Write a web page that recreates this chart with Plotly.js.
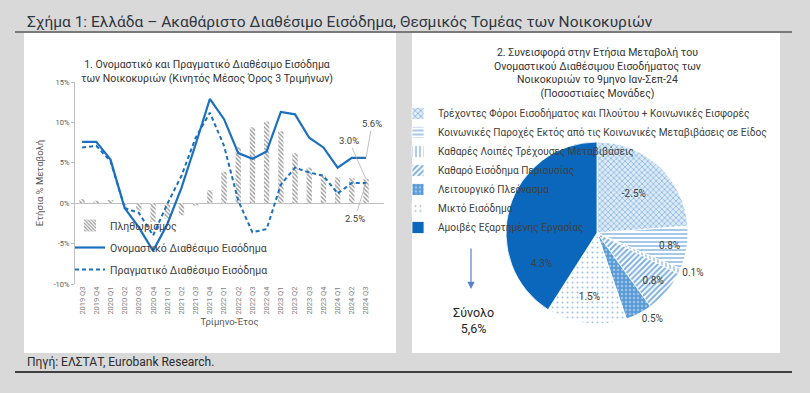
<!DOCTYPE html>
<html>
<head>
<meta charset="utf-8">
<script src="https://cdn.plot.ly/plotly-3.0.1.min.js"></script>
<style>html,body{margin:0;padding:0;background:#d9d9d9;}#chart{width:810px;height:393px;}</style>
</head>
<body>
<div id="chart"></div>
<script>
// ---- Data (left chart) ----
const quarters = ['2019 Q3','2019 Q4','2020 Q1','2020 Q2','2020 Q3','2020 Q4','2021 Q1','2021 Q2','2021 Q3','2021 Q4','2022 Q1','2022 Q2','2022 Q3','2022 Q4','2023 Q1','2023 Q2','2023 Q3','2023 Q4','2024 Q1','2024 Q2','2024 Q3'];
const inflation = [0.5, 0.3, 0.4, -0.2, -0.9, -2.3, -1.9, -1.5, -0.3, 1.6, 3.9, 6.9, 9.4, 10.1, 8.9, 6.2, 4.4, 3.4, 3.2, 3.1, 3.0];
const nominalIncome = [7.6, 7.6, 5.4, -0.6, -3.0, -5.9, -2.6, 1.9, 7.3, 12.9, 10.4, 6.2, 5.5, 6.4, 11.3, 11.0, 8.1, 6.9, 4.4, 5.6, 5.6];
const realIncome = [6.9, 7.1, 5.2, -0.6, -1.2, -4.0, -0.1, 3.4, 8.1, 11.2, 7.1, 0.3, -3.6, -3.2, 2.3, 4.4, 3.8, 3.4, 1.2, 2.5, 2.5];
const seriesNames = ['Πληθωρισμός', 'Ονομαστικό Διαθέσιμο Εισόδημα', 'Πραγματικό Διαθέσιμο Εισόδημα'];
const yTicks = [-10, -5, 0, 5, 10, 15];

// ---- Data (right chart) ----
const components = ['Τρέχοντες Φόροι Εισοδήματος και Πλούτου + Κοινωνικές Εισφορές',
  'Κοινωνικές Παροχές Εκτός από τις Κοινωνικές Μεταβιβάσεις σε Είδος',
  'Καθαρές Λοιπές Τρέχουσες Μεταβιβάσεις',
  'Καθαρό Εισόδημα Περιουσίας',
  'Λειτουργικό Πλεόνασμα',
  'Μικτό Εισόδημα',
  'Αμοιβές Εξαρτημένης Εργασίας'];
const contributions = [-2.5, 0.8, 0.1, 0.8, 0.5, 1.5, 4.3];
const totalChange = '5,6%';

// ---- helpers ----
const W = 810, H = 393;
const px = v => v / W;
const py = v => 1 - v / H;
const FONT = 'Roboto, "Open Sans", sans-serif';
const BLUE = '#1b70c0';
const fmt = v => v.toFixed(1) + '%';
const lastIdx = contributions.length - 1;

const traces = [
  {
    type: 'bar', x: quarters, y: inflation, name: seriesNames[0], width: 0.38,
    marker: {color: '#ffffff', line: {width: 0},
      pattern: {shape: '\\', fgcolor: '#999999', bgcolor: '#ffffff', size: 3, solidity: 0.45}},
    legendgroup: 'a', hoverinfo: 'x+y'
  },
  {
    type: 'scatter', mode: 'lines', x: quarters, y: nominalIncome, name: seriesNames[1],
    line: {color: BLUE, width: 2.2}, legendgroup: 'b'
  },
  {
    type: 'scatter', mode: 'lines', x: quarters, y: realIncome, name: seriesNames[2],
    line: {color: BLUE, width: 2, dash: '4px,3px'}, legendgroup: 'c'
  },
  {
    type: 'pie', labels: components, values: contributions.map(Math.abs),
    text: contributions.map((v, i) => i === lastIdx ? '' : fmt(v)),
    textinfo: 'text', sort: false, direction: 'clockwise', rotation: 0,
    textposition: ['inside','inside','outside','inside','outside','inside','none'],
    insidetextorientation: 'horizontal',
    textfont: {family: FONT, size: 10, color: '#404040'},
    domain: {x: [px(506), px(688)], y: [py(324), py(142)]},
    legend: 'legend2',
    marker: {
      colors: ['#ffffff','#ffffff','#ffffff','#ffffff','#5b9bd5','#ffffff','#0b67bb'],
      line: {color: '#ffffff', width: 0.8},
      pattern: {
        shape: ['x','-','|','/','.','.',''],
        fgcolor: ['#8fbbe4','#9dc3e6','#9dc3e6','#7fb0de','#9cc4ea','#9dc3e6','#0b67bb'],
        bgcolor: ['#deebf7','#ffffff','#ffffff','#ffffff','#5b9bd5','#ffffff','#0b67bb'],
        size: [4,4,4,4,4,5,4],
        solidity: [0.4,0.45,0.4,0.5,0.3,0.12,0.5]
      }
    },
    hoverinfo: 'label+text'
  }
];

const annotations = [
  {xref:'paper', yref:'paper', x: px(25), y: py(22), xanchor:'left', yanchor:'middle', showarrow:false,
   text:'Σχήμα 1: Ελλάδα – Ακαθάριστο Διαθέσιμο Εισόδημα, Θεσμικός Τομέας των Νοικοκυριών',
   font:{family: FONT, size: 15.5, color:'#2f3640'}},
  {xref:'paper', yref:'paper', x: px(207), y: py(72), xanchor:'center', yanchor:'middle', showarrow:false,
   text:'1. Ονομαστικό και Πραγματικό Διαθέσιμο Εισόδημα<br>των Νοικοκυριών (Κινητός Μέσος Όρος 3 Τριμήνων)',
   font:{family: FONT, size: 10.5, color:'#333333'}},
  {xref:'paper', yref:'paper', x: px(597), y: py(73), xanchor:'center', yanchor:'middle', showarrow:false,
   text:'2. Συνεισφορά στην Ετήσια Μεταβολή του<br>Ονομαστικού Διαθέσιμου Εισοδήματος των<br>Νοικοκυριών το 9μηνο Ιαν-Σεπ-24<br>(Ποσοστιαίες Μονάδες)',
   font:{family: FONT, size: 10.5, color:'#333333'}},
  {xref:'paper', yref:'paper', x: px(25), y: py(362), xanchor:'left', yanchor:'middle', showarrow:false,
   text:'Πηγή: ΕΛΣΤΑΤ, Eurobank Research.',
   font:{family: FONT, size: 12, color:'#2b2b2b'}},
  // compensation slice label (placed as in the reference, below the legend)
  {xref:'paper', yref:'paper', x: px(541), y: py(263), xanchor:'center', yanchor:'middle', showarrow:false,
   text: fmt(contributions[lastIdx]), font:{family: FONT, size: 10, color:'#404040'}},
  // end-of-series labels
  {xref:'x', yref:'y', x: quarters[quarters.length-1], y: nominalIncome[nominalIncome.length-1],
   text: fmt(nominalIncome[nominalIncome.length-1]), showarrow:true, arrowhead:0, arrowwidth:0.7,
   arrowcolor:'#a6a6a6', ax: 6, ay: -34, font:{family: FONT, size: 9.5, color:'#404040'}},
  {xref:'x', yref:'y', x: quarters[quarters.length-1], y: inflation[inflation.length-1],
   text: fmt(inflation[inflation.length-1]), showarrow:true, arrowhead:0, arrowwidth:0.7,
   arrowcolor:'#a6a6a6', ax: -17, ay: -38, font:{family: FONT, size: 9.5, color:'#404040'}},
  {xref:'x', yref:'y', x: quarters[quarters.length-1], y: realIncome[realIncome.length-1],
   text: fmt(realIncome[realIncome.length-1]), showarrow:true, arrowhead:0, arrowwidth:0.7,
   arrowcolor:'#a6a6a6', ax: -11, ay: 35, font:{family: FONT, size: 9.5, color:'#404040'}},
  // total
  {xref:'paper', yref:'paper', x: px(471), y: py(289), ax: 0, ay: -42, text:'', showarrow:true,
   arrowhead:2, arrowsize:1.2, arrowwidth:1.2, arrowcolor:'#5b7fd0'},
  {xref:'paper', yref:'paper', x: px(473), y: py(320), xanchor:'center', yanchor:'middle', showarrow:false,
   text:'Σύνολο<br>' + totalChange, font:{family: FONT, size: 12.5, color:'#262626'}}
];

const shapes = [
  {type:'line', xref:'paper', yref:'paper', x0: px(15), x1: px(792), y0: py(32), y1: py(32), line:{color:'#595959', width:1.5}, layer:'below'},
  {type:'rect', xref:'paper', yref:'paper', x0: px(24), x1: px(396), y0: py(353), y1: py(33), fillcolor:'#ffffff', line:{width:0}, layer:'below'},
  {type:'rect', xref:'paper', yref:'paper', x0: px(412), x1: px(780), y0: py(353), y1: py(33), fillcolor:'#ffffff', line:{width:0}, layer:'below'},
  {type:'line', xref:'paper', yref:'paper', x0: px(15), x1: px(792), y0: py(372), y1: py(372), line:{color:'#404040', width:2}, layer:'below'}
];

const layout = {
  width: W, height: H,
  margin: {l:0, r:0, t:0, b:0},
  paper_bgcolor: '#d9d9d9', plot_bgcolor: 'rgba(0,0,0,0)',
  font: {family: FONT, color: '#404040'},
  showlegend: true,
  xaxis: {
    domain: [px(75), px(384)], type: 'category', tickangle: -90,
    tickfont: {family: FONT, size: 7.5, color: '#7f7f7f'},
    showline: false, showgrid: false, ticks: '', zeroline: false,
    title: {text: 'Τρίμηνο-Έτος', font: {family: FONT, size: 9.5, color: '#595959'}, standoff: 4}
  },
  yaxis: {
    domain: [py(284), py(82)], range: [-10, 15], tickvals: yTicks,
    ticktext: yTicks.map(v => v + '%'),
    tickfont: {family: FONT, size: 7.5, color: '#595959'},
    showgrid: false, showline: true, linecolor: '#bfbfbf', linewidth: 1,
    ticks: 'outside', ticklen: 3, tickcolor: '#bfbfbf',
    zeroline: true, zerolinecolor: '#bfbfbf', zerolinewidth: 1,
    title: {text: 'Ετήσια % Μεταβολή', font: {family: FONT, size: 9.5, color: '#595959'}, standoff: 8}
  },
  legend: {
    x: px(70), y: py(211), xanchor: 'left', yanchor: 'top',
    bgcolor: 'rgba(0,0,0,0)', font: {family: FONT, size: 10.5, color: '#404040'},
    tracegroupgap: 3, traceorder: 'grouped'
  },
  legend2: {
    x: px(398), y: py(99), xanchor: 'left', yanchor: 'top',
    bgcolor: 'rgba(0,0,0,0)', font: {family: FONT, size: 10.1, color: '#404040'},
    tracegroupgap: 0
  },
  annotations: annotations,
  shapes: shapes
};

Plotly.newPlot('chart', traces, layout, {displayModeBar: false, staticPlot: true});
</script>
</body>
</html>
